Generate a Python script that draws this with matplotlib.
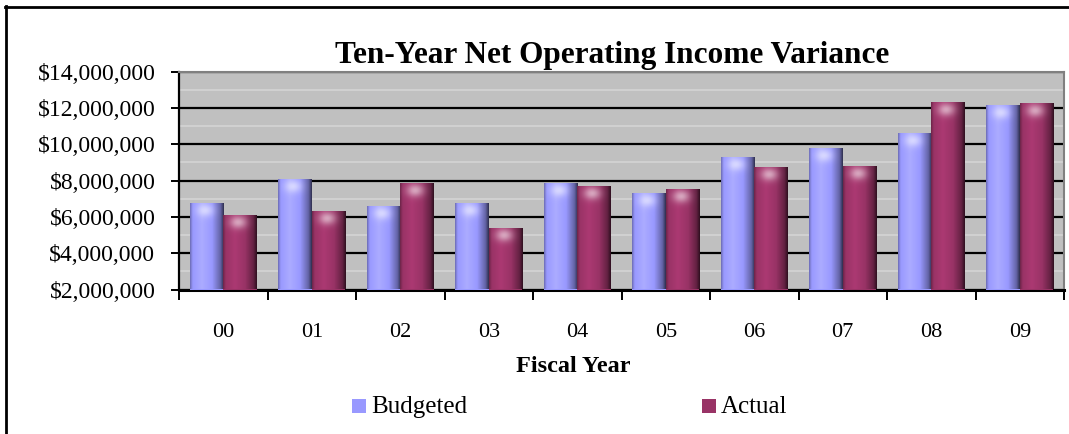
import matplotlib.pyplot as plt
import numpy as np
from matplotlib.colors import to_rgb
from matplotlib.lines import Line2D
from matplotlib.patches import Rectangle
from matplotlib.ticker import FuncFormatter, MultipleLocator

plt.rcParams['font.family'] = ['Liberation Serif', 'DejaVu Serif']

years = ['00', '01', '02', '03', '04', '05', '06', '07', '08', '09']
budgeted = [6700000, 8030000, 6520000, 6700000, 7840000,
            7240000, 9260000, 9750000, 10560000, 12090000]
actual = [6060000, 6260000, 7810000, 5360000, 7660000,
          7490000, 8670000, 8730000, 12290000, 12200000]

blue = '#9999ff'
plum = '#993366'
ymin, ymax = 2000000, 14000000


def shaded(color, frac_top, n=160):
    # cylinder-like shading: bright left of centre, dark right edge, pale cap
    base = np.array(to_rgb(color))
    t = np.linspace(0, 1, n)
    prof = np.interp(t, [0, 0.08, 0.35, 0.65, 0.9, 1.0],
                     [0.7, 1.0, 1.12, 1.0, 0.65, 0.3])
    img = np.clip(base[None, None, :] * prof[None, :, None], 0, 1)
    img = np.repeat(img, n, axis=0)
    rows = np.linspace(0, 1, n)[:, None]
    cap = np.exp(-((rows - frac_top * 0.5) / (frac_top * 0.45)) ** 2)
    cap = cap * np.exp(-((t[None, :] - 0.45) / 0.25) ** 2)
    img = img + (1 - img) * (0.55 * cap)[:, :, None]
    return np.clip(img, 0, 1)


fig = plt.figure(figsize=(10.69, 4.34), dpi=100)
ax = fig.add_axes([179 / 1069, 1 - 289.5 / 434, 885 / 1069, 217.8 / 434])
ax.set_facecolor('#c0c0c0')

x = np.arange(len(years))
w = 0.38
bars_b = ax.bar(x - w / 2, np.array(budgeted) - ymin, w, bottom=ymin,
                color=blue, linewidth=0, zorder=3)
bars_a = ax.bar(x + w / 2, np.array(actual) - ymin, w, bottom=ymin,
                color=plum, linewidth=0, zorder=3)

px_per_val = 217.8 / (ymax - ymin)
for bars, col in ((bars_b, blue), (bars_a, plum)):
    for b in bars:
        x0, y0 = b.get_x(), b.get_y()
        hgt = b.get_height()
        frac = min(0.5, 14 / (hgt * px_per_val))
        ax.imshow(shaded(col, frac), extent=(x0, x0 + b.get_width(), y0, y0 + hgt),
                  aspect='auto', zorder=4, interpolation='bilinear')

ax.set_xlim(-0.5, len(years) - 0.5)
ax.set_ylim(ymin, ymax)

# grid: light minor lines, black major lines
ax.yaxis.set_major_locator(MultipleLocator(2000000))
ax.yaxis.set_minor_locator(MultipleLocator(1000000))
ax.grid(axis='y', which='minor', color='#d4d4d4', linewidth=1.2, zorder=1)
ax.grid(axis='y', which='major', color='black', linewidth=1.6, zorder=2)
ax.yaxis.set_major_formatter(FuncFormatter(lambda v, p: f'${v:,.0f}'))
ax.tick_params(axis='y', which='major', length=6, width=1.4, direction='out',
               labelsize=17, pad=11)
ax.tick_params(axis='y', which='minor', length=0)

ax.set_xticks(x)
ax.set_xticklabels(years)
ax.set_xticks(np.arange(len(years) + 1) - 0.5, minor=True)
ax.tick_params(axis='x', which='major', length=0, labelsize=16, pad=24)
ax.tick_params(axis='x', which='minor', length=7, width=1.4, direction='out')

for side in ('top', 'right'):
    ax.spines[side].set_color('#808080')
    ax.spines[side].set_linewidth(1.5)
ax.spines['left'].set_linewidth(1.6)
ax.spines['bottom'].set_linewidth(2.2)

fig.text(612 / 1069, 1 - 63 / 434, 'Ten-Year Net Operating Income Variance',
         ha='center', va='baseline', fontsize=22.5, fontweight='bold')
fig.text(573 / 1069, 1 - 367 / 434, 'Fiscal Year', ha='center', va='center',
         fontsize=17.5, fontweight='bold')

# legend
for lx, col, label in ((352, blue, 'Budgeted'), (702, plum, 'Actual')):
    fig.patches.append(Rectangle((lx / 1069, 1 - 413 / 434), 14 / 1069, 14 / 434,
                                 transform=fig.transFigure, facecolor=col,
                                 edgecolor='none'))
    fig.text((lx + 19) / 1069, 1 - 413 / 434, label, ha='left', va='baseline',
             fontsize=18)

# chart frame
fig.add_artist(Line2D([5 / 1069, 1], [1 - 6.5 / 434, 1 - 6.5 / 434],
                      transform=fig.transFigure, color='black', linewidth=2))
fig.add_artist(Line2D([6 / 1069, 6 / 1069], [0, 1 - 6 / 434],
                      transform=fig.transFigure, color='black', linewidth=2))

fig.savefig('out.png', dpi=100)
